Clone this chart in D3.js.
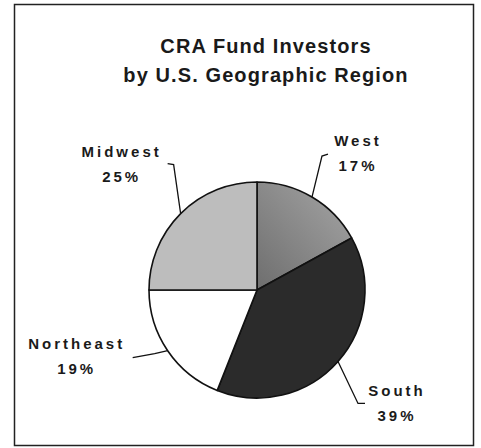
<!DOCTYPE html>
<html>
<head>
<meta charset="utf-8">
<script src="https://cdn.jsdelivr.net/npm/d3@7"></script>
<style>
  body { margin: 0; background: #fff; }
  svg { display: block; font-family: "Liberation Sans", Arial, sans-serif; }
</style>
</head>
<body>
<div id="chart"></div>
<script>
// CRA Fund Investors by U.S. Geographic Region

const titleLines = ["CRA Fund Investors", "by U.S. Geographic Region"];
const regions = ["West", "South", "Northeast", "Midwest"];
const shares = [17, 39, 19, 25];
const fills = ["url(#westGrad)", "#2b2b2b", "#ffffff", "#bdbdbd"];

// Leader lines: elbow offset from the arc edge, then a short tail, then the text
const leaders = [
    { elbow: [10, -41], tail: [6, -2], text: [30, -8] },
    { elbow: [20, 42], tail: [7, 0], text: [32, -7] },
    { elbow: [-13, 3], tail: [-22, 4], text: [-56, -9] },
    { elbow: [-7, -49], tail: [-6, -1], text: [-46, -7] }
];

function createChart() {
    const width = 481;
    const height = 448;
    const cx = 257, cy = 290, radius = 108;

    const svg = d3.select("#chart")
        .append("svg")
        .attr("width", width)
        .attr("height", height);

    // Dégradé de la part "West"
    const grad = svg.append("defs")
        .append("linearGradient")
        .attr("id", "westGrad")
        .attr("x1", "0%").attr("y1", "100%")
        .attr("x2", "100%").attr("y2", "0%");
    grad.append("stop").attr("offset", "0%").attr("stop-color", "#6e6e6e");
    grad.append("stop").attr("offset", "100%").attr("stop-color", "#a6a6a6");

    // Cadre
    svg.append("rect")
        .attr("x", 14.5)
        .attr("y", 4.5)
        .attr("width", 459)
        .attr("height", 441)
        .attr("fill", "none")
        .attr("stroke", "#222")
        .attr("stroke-width", 1.5);

    // Titre
    svg.append("text")
        .attr("x", 266)
        .attr("y", 53)
        .attr("text-anchor", "middle")
        .style("font-size", "20px")
        .style("font-weight", "bold")
        .style("letter-spacing", "1.1px")
        .attr("fill", "#1a1a1a")
        .selectAll("tspan")
        .data(titleLines)
        .enter()
        .append("tspan")
        .attr("x", 266)
        .attr("dy", (d, i) => i === 0 ? 0 : 29)
        .text(d => d);

    const pie = d3.pie().sort(null).value(d => d);
    const arcs = pie(shares);
    const arc = d3.arc().innerRadius(0).outerRadius(radius);

    const g = svg.append("g")
        .attr("transform", `translate(${cx},${cy})`);

    g.selectAll("path")
        .data(arcs)
        .enter()
        .append("path")
        .attr("d", arc)
        .attr("fill", (d, i) => fills[i])
        .attr("stroke", "#111")
        .attr("stroke-width", 1.6)
        .attr("stroke-linejoin", "round");

    // Lignes de rappel et étiquettes
    arcs.forEach((d, i) => {
        const mid = (d.startAngle + d.endAngle) / 2;
        const edge = [Math.sin(mid) * radius, -Math.cos(mid) * radius];
        const L = leaders[i];
        const elbow = [edge[0] + L.elbow[0], edge[1] + L.elbow[1]];
        const tail = [elbow[0] + L.tail[0], elbow[1] + L.tail[1]];

        g.append("path")
            .attr("d", d3.line()([edge, elbow, tail]))
            .attr("fill", "none")
            .attr("stroke", "#111")
            .attr("stroke-width", 1.3);

        const t = g.append("text")
            .attr("text-anchor", "middle")
            .style("font-size", "15px")
            .style("font-weight", "bold")
            .style("letter-spacing", "3px")
            .attr("fill", "#1a1a1a");
        const tx = tail[0] + L.text[0];
        const ty = tail[1] + L.text[1];
        t.append("tspan").attr("x", tx).attr("y", ty).text(regions[i]);
        t.append("tspan").attr("x", tx).attr("y", ty + 25).text(shares[i] + "%");
    });
}

createChart();
</script>
</body>
</html>
